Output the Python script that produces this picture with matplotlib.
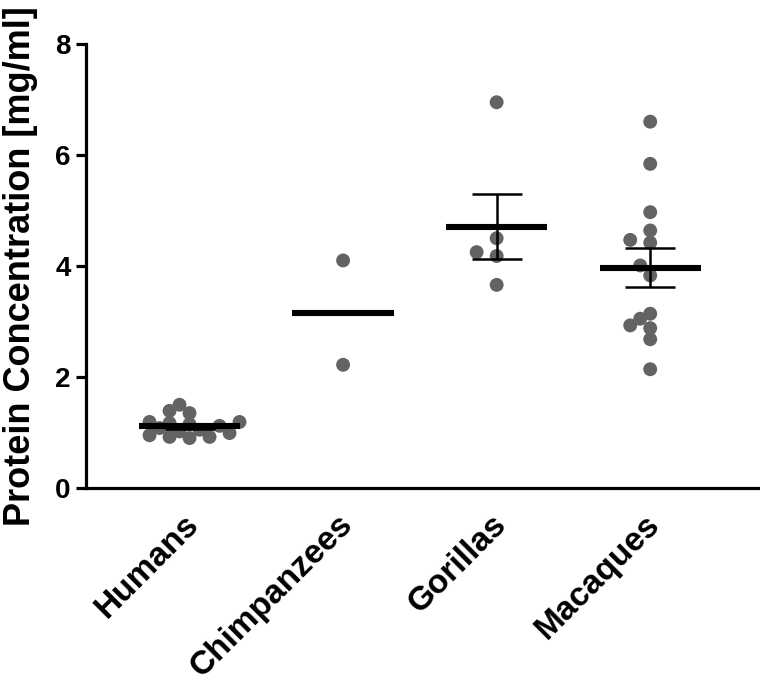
import numpy as np
import matplotlib

matplotlib.use("Agg")
import matplotlib.pyplot as plt
from matplotlib.transforms import ScaledTranslation

groups = ["Humans", "Chimpanzees", "Gorillas", "Macaques"]
humans = [1.50, 1.39, 1.35, 1.19, 1.19, 1.17, 1.15, 1.12, 1.08, 1.05,
          1.02, 0.99, 0.95, 0.92, 0.92, 0.90]
chimpanzees = [4.10, 2.22]
gorillas = [6.95, 4.50, 4.25, 4.18, 3.66]
macaques = [6.60, 5.84, 4.97, 4.64, 4.47, 4.42, 4.01, 3.83, 3.14, 3.05,
            2.93, 2.88, 2.68, 2.14]
means = [1.11, 3.16, 4.71, 3.97]
sems = [0.04, np.nan, 0.58, 0.35]

plt.rcParams["font.family"] = ["Liberation Sans", "DejaVu Sans"]
plt.rcParams["font.weight"] = "bold"

fig = plt.figure(figsize=(7.6, 6.83), dpi=100)
ax = fig.add_axes([0.113, 0.2855, 0.886, 0.6501])
ax.set_xlim(-0.675, 3.71)
ax.set_ylim(0, 8)


def swarm(values, center, step_px=10, min_dist=11):
    # grid beeswarm in pixel space, points may overlap a little
    placed = []
    xs = {}
    cx, _ = ax.transData.transform((center, 0))
    for i in np.argsort(values):
        _, py = ax.transData.transform((center, values[i]))
        for n in range(0, 40):
            off = ((n + 1) // 2) * step_px * (-1 if n % 2 else 1)
            px = cx + off
            if all((px - qx) ** 2 + (py - qy) ** 2 >= min_dist ** 2 for qx, qy in placed):
                break
        placed.append((px, py))
        xs[i] = ax.transData.inverted().transform((px, py))[0]
    return [xs[i] for i in range(len(values))]


half_w = 0.33
for k, vals in enumerate([humans, chimpanzees, gorillas, macaques]):
    x = swarm(vals, k)
    ax.scatter(x, vals, s=100, color="#636363", edgecolors="none", zorder=2)
    ax.hlines(means[k], k - half_w, k + half_w, color="black", lw=4.4, zorder=4)
    if not np.isnan(sems[k]):
        ax.errorbar(k, means[k], yerr=sems[k], fmt="none", ecolor="black",
                    elinewidth=1.8, capsize=18, capthick=1.8, zorder=3)

for side in ("top", "right"):
    ax.spines[side].set_visible(False)
for side in ("left", "bottom"):
    ax.spines[side].set_linewidth(2.3)

ax.set_yticks([0, 2, 4, 6, 8])
ax.tick_params(axis="y", length=7, width=2.3, labelsize=20, pad=4)
ax.set_xticks(range(len(groups)))
ax.set_xticklabels(groups, rotation=45, ha="right", rotation_mode="anchor",
                   fontsize=24, fontweight="bold")
ax.tick_params(axis="x", length=0, pad=15)
shift = ScaledTranslation(-6 / 100, 0, fig.dpi_scale_trans)
for lab in ax.get_xticklabels():
    lab.set_transform(lab.get_transform() + shift)
for lab in ax.get_yticklabels():
    lab.set_fontweight("bold")
ax.set_ylabel("Protein Concentration [mg/ml]", fontsize=26, fontweight="bold", labelpad=12)

fig.savefig("out.png", dpi=100)
